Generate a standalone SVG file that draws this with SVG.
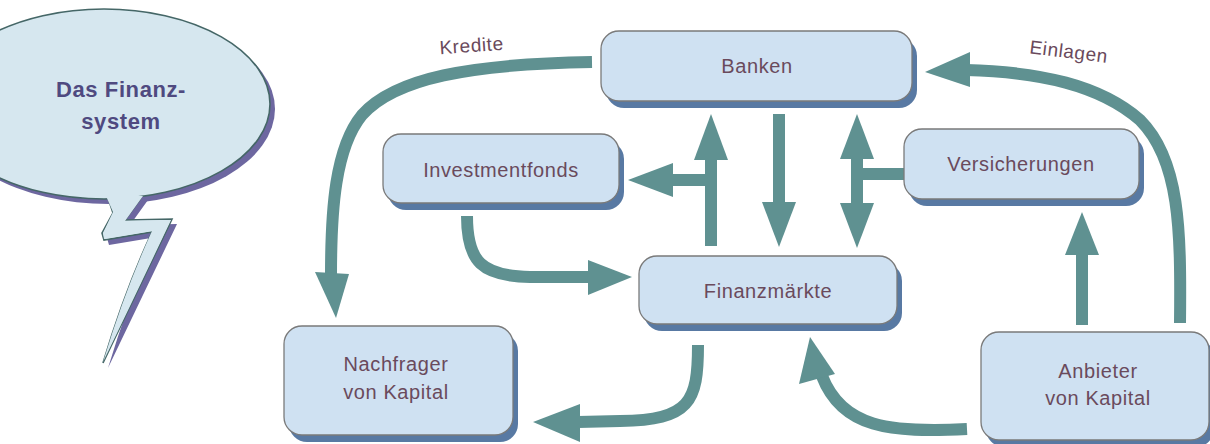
<svg xmlns="http://www.w3.org/2000/svg" width="1210" height="444" viewBox="0 0 1210 444">
<style>
.box{fill:#cfe1f2;stroke:#7a7a7a;stroke-width:1.3}
.shd{fill:#5879a3}
.lbl{font-family:"Liberation Sans",Arial,sans-serif;font-size:20px;letter-spacing:0.6px;fill:#6a4a5c;text-anchor:middle}
.edge{fill:none;stroke:#5f9191;stroke-width:12}
.head{fill:#5f9191}
.elbl{font-family:"Liberation Sans",Arial,sans-serif;font-size:19px;letter-spacing:0.6px;fill:#6a4a5c;text-anchor:middle}
.title{font-family:"Liberation Sans",Arial,sans-serif;font-weight:bold;font-size:22px;letter-spacing:0.6px;fill:#4f4a80;text-anchor:middle}
.bub{fill:#d6e7ef;stroke:#456767;stroke-width:1.6}
</style>
<rect width="1210" height="444" fill="#ffffff"/>

<g id="bubble">
  <g transform="translate(5,5)" fill="#6d67a0">
    <ellipse cx="104" cy="104" rx="166" ry="95"/>
    <path d="M106,195 L113,213 L102,233 L104,240 L152,232 Q125,290 103,363 Q138,290 172,219 L125,220 L143,195 Z"/>
  </g>
  <path class="bub" d="M108,198 L113,213 L102,233 L104,240 L152,232 Q125,290 103,363 Q138,290 172,219 L125,220 L141,198"/>
  <ellipse class="bub" cx="104" cy="104" rx="166" ry="95"/>
  <path d="M106,196 L113,212 L103,233 L104,239 L152,231 Q125,290 103,362 Q138,290 171,220 L125,221 L143,196 Z" fill="#d6e7ef"/>
  <text class="title" x="121" y="97">Das Finanz-</text>
  <text class="title" x="121" y="129">system</text>
</g>

<g id="connectors">
  <!-- Kredite -->
  <path class="edge" d="M592,62 C470,64 395,78 362,115 C335,148 331,210 331,275"/>
  <polygon class="head" points="315,272 349,274 336,318"/>
  <text class="elbl" x="472" y="52" transform="rotate(-4 472 52)">Kredite</text>
  <!-- Einlagen -->
  <path class="edge" d="M1180,323 C1181,230 1180,160 1140,120 C1100,85 1040,72 966,70"/>
  <polygon class="head" points="970,52 970,87 925,72"/>
  <text class="elbl" x="1068" y="58" transform="rotate(7 1068 58)">Einlagen</text>
  <!-- Anbieter -> Versicherungen -->
  <path class="edge" d="M1082,325 L1082,250"/>
  <polygon class="head" points="1065,255 1099,255 1082,212"/>
  <!-- Anbieter -> Finanzmaerkte -->
  <path class="edge" d="M967,429 C890,433 842,428 822,376"/>
  <polygon class="head" points="799,384 835,374 810,337"/>
  <!-- Finanzmaerkte -> Nachfrager -->
  <path class="edge" d="M698,345 C698,402 690,420 620,421 L578,422"/>
  <polygon class="head" points="580,404 580,442 533,422"/>
  <!-- Investmentfonds -> Finanzmaerkte -->
  <path class="edge" d="M467,216 C467,262 482,276 530,277 L592,277"/>
  <polygon class="head" points="588,260 588,295 632,277"/>
  <!-- Finanzmaerkte -> Banken / Investmentfonds -->
  <path class="edge" d="M711,246 L711,155"/>
  <polygon class="head" points="694,160 728,160 711,114"/>
  <path class="edge" d="M711,180 L670,180"/>
  <polygon class="head" points="673,163 673,197 628,180"/>
  <!-- Banken -> Finanzmaerkte -->
  <path class="edge" d="M779,114 L779,207"/>
  <polygon class="head" points="762,202 796,202 779,247"/>
  <!-- Versicherungen <-> Banken / Finanzmaerkte -->
  <path class="edge" d="M857,155 L857,207"/>
  <polygon class="head" points="840,159 874,159 857,114"/>
  <polygon class="head" points="840,203 874,203 857,248"/>
  <path class="edge" d="M857,174 L905,174"/>
</g>

<g id="banken">
  <rect class="shd" x="606" y="38" width="311" height="70" rx="18"/>
  <rect class="box" x="601" y="31" width="311" height="70" rx="18"/>
  <text class="lbl" x="757" y="73">Banken</text>
</g>
<g id="investmentfonds">
  <rect class="shd" x="388" y="141" width="236" height="69" rx="18"/>
  <rect class="box" x="383" y="134" width="236" height="69" rx="18"/>
  <text class="lbl" x="501" y="177">Investmentfonds</text>
</g>
<g id="versicherungen">
  <rect class="shd" x="909" y="136" width="235" height="70" rx="18"/>
  <rect class="box" x="904" y="129" width="235" height="70" rx="18"/>
  <text class="lbl" x="1021" y="171">Versicherungen</text>
</g>
<g id="finanzmaerkte">
  <rect class="shd" x="644" y="263" width="258" height="68" rx="18"/>
  <rect class="box" x="639" y="256" width="258" height="68" rx="18"/>
  <text class="lbl" x="768" y="298">Finanzmärkte</text>
</g>
<g id="nachfrager">
  <rect class="shd" x="289" y="333" width="229" height="109" rx="18"/>
  <rect class="box" x="284" y="326" width="229" height="109" rx="18"/>
  <text class="lbl" x="396" y="371">Nachfrager</text>
  <text class="lbl" x="396" y="399">von Kapital</text>
</g>
<g id="anbieter">
  <rect class="shd" x="986" y="339" width="228" height="108" rx="18"/>
  <rect class="box" x="981" y="332" width="228" height="108" rx="18"/>
  <text class="lbl" x="1098" y="378">Anbieter</text>
  <text class="lbl" x="1098" y="405">von Kapital</text>
</g>
</svg>
